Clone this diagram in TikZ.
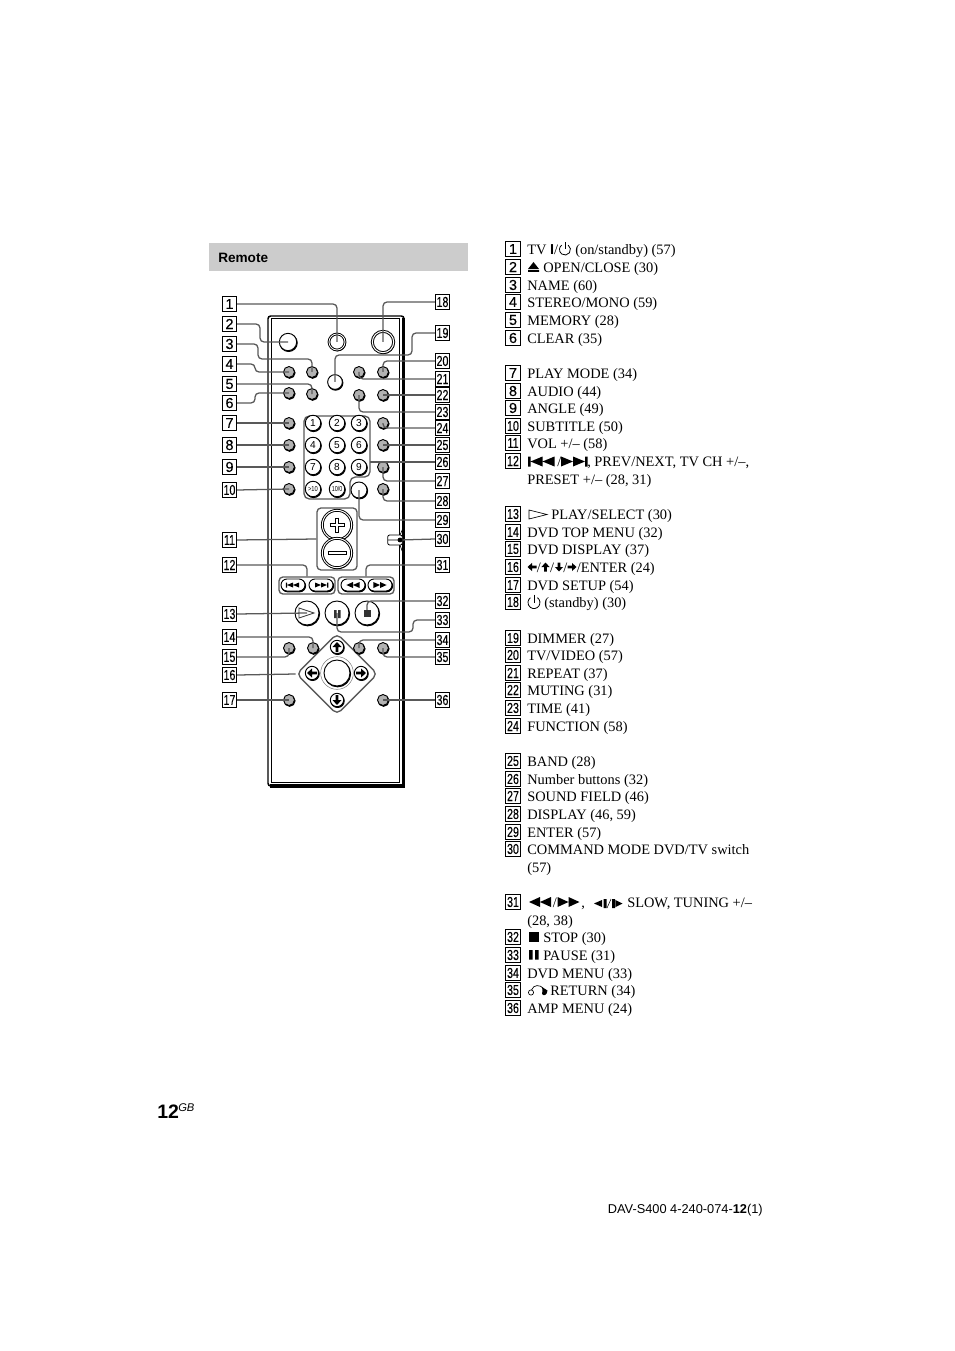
\documentclass[tikz,border=0pt]{standalone}
\usepackage{fontspec}
\setmainfont{Liberation Serif}
\setsansfont{Liberation Sans}
\newfontfamily\boxfont[FakeBold=0.2]{Liberation Sans}
\usetikzlibrary{calc,positioning,shapes.geometric,shapes.misc,shadows}
\newcommand{\nn}[1]{\scalebox{.74}[1]{#1}}

\begin{document}
\begin{tikzpicture}[
	x=0.75pt,y=-0.75pt,
	numbox/.style={rectangle, draw=black, line width=0.7pt, fill=white, inner sep=0pt, minimum width=10.8pt, minimum height=10.8pt, font=\fontsize{10.8}{11}\boxfont},
	itemtext/.style={anchor=base west, inner sep=0pt, yshift=-1.3pt, font=\fontsize{10.8}{12}\selectfont},
	lead/.style={draw=black!65, line width=0.95pt, rounded corners=3pt},
	btnshadow/.style={copy shadow={shadow xshift=0.45pt, shadow yshift=-0.65pt, draw=black, fill=black}},
	smallbtn/.style={circle, draw=black, line width=0.7pt, fill=black!30, inner sep=0pt, minimum size=8.2pt, btnshadow},
	midbtn/.style={circle, draw=black, line width=0.7pt, fill=white, inner sep=0pt, minimum size=#1, btnshadow},
	digitbtn/.style={circle, draw=black, line width=0.7pt, fill=white, inner sep=0pt, minimum size=11.6pt, btnshadow, font=\fontsize{7.6}{8}\sffamily},
	pillbtn/.style={rounded rectangle, draw=black, line width=0.7pt, fill=white, inner sep=0pt, minimum width=18pt, minimum height=9pt, btnshadow},
	groupbox/.style={rectangle, rounded corners=3pt, draw=black!65, line width=1pt, inner sep=0pt},
	twoRight/.pic={\fill (-11,-5)--(0,0)--(-11,5)--cycle (0,-5)--(11,0)--(0,5)--cycle;},
	twoLeft/.pic={\fill (11,-5)--(0,0)--(11,5)--cycle (0,-5)--(-11,0)--(0,5)--cycle;},
	skipBack/.pic={\fill (12,-5)--(0,0)--(12,5)--cycle (0,-5)--(-12,0)--(0,5)--cycle (-14.5,-5) rectangle (-12,5);},
	skipFwd/.pic={\fill (-12,-5)--(0,0)--(-12,5)--cycle (0,-5)--(12,0)--(0,5)--cycle (12,-5) rectangle (14.5,5);},
	arrowUp/.pic={\fill (0,-5)--(4.5,0)--(1.4,0)--(1.4,5)--(-1.4,5)--(-1.4,0)--(-4.5,0)--cycle;},
	powerSym/.pic={\draw[line width=0.6pt] (2.9,-4) arc (-54:234:5); \draw[line width=0.6pt] (0,-6.5) -- (0,0);}
	]
	\useasboundingbox (0,0) rectangle (954,1351);
	%Heading
	\fill[black!20] (209,243) rectangle (468,271);
	\node[anchor=base west, inner sep=0pt, font=\fontsize{10.2}{12}\sffamily\bfseries] (Heading) at (218,263) {Remote};
	%Remote body
	\draw[line width=1.1pt, rounded corners=2pt] (268,316) rectangle (404,786);
	\draw[line width=0.5pt] (271.5,318.5) rectangle (399,782);
	\draw[line width=2.4pt] (403.5,318) -- (403.5,786) -- (270,786);
	\node[rectangle, rounded corners=1.5pt, draw=black, line width=0.6pt, fill=white, inner sep=0pt, minimum width=11pt, minimum height=7.5pt] (CmdSwitch) at (395,540) {};
	\draw[line width=0.5pt] (404,526) -- (400,535) (400,545) -- (404,556) (388,540) -- (401,540);
	%Groups
	\node[groupbox, minimum width=30pt, minimum height=46.5pt] (VolGroup) at (337,539) {};
	\node[groupbox, minimum width=42pt, minimum height=12.8pt] (PrevGroup) at (307,585.5) {};
	\node[groupbox, minimum width=42pt, minimum height=12.8pt] (ScanGroup) at (366,585.5) {};
	\node[diamond, aspect=1, rounded corners=4pt, draw=black!65, line width=1pt, inner sep=0pt, minimum size=61pt] (Cross) at (337,674) {};
	\draw[black!65, line width=1pt, rounded corners=4pt] (304,416) -- (370,416) -- (370,477) -- (350,477) -- (350,499) -- (304,499) -- cycle;
	\coordinate (PadEdge) at (370,462);
	%Buttons
	\node[midbtn=13pt] (Eject) at (288,342) {};
	\node[midbtn=12pt, double, double distance=0.6pt] (TvPower) at (337,342) {};
	\node[midbtn=16pt, double, double distance=0.8pt] (Standby) at (383,342) {};
	\node[smallbtn] (NameBtn) at (312,372) {};
	\node[smallbtn] (Stereo) at (289,372) {};
	\node[smallbtn] (Memory) at (312,394) {};
	\node[smallbtn] (Clear) at (289,393) {};
	\node[smallbtn] (PlayMode) at (289,423) {};
	\node[smallbtn] (Audio) at (289,445) {};
	\node[smallbtn] (Angle) at (289,467) {};
	\node[smallbtn] (Subtitle) at (289,489) {};
	\node[midbtn=11pt] (Dimmer) at (335,382) {};
	\node[smallbtn] (TvVideo) at (383,372) {};
	\node[smallbtn] (Repeat) at (359,372) {};
	\node[smallbtn] (Muting) at (383,395) {};
	\node[smallbtn] (Time) at (359,395) {};
	\node[smallbtn] (Function) at (383,423) {};
	\node[smallbtn] (Band) at (383,445) {};
	\node[smallbtn] (Sound) at (383,467) {};
	\node[smallbtn] (Display) at (383,489) {};
	\node[midbtn=12pt] (EnterKey) at (359,490) {};
	\node[digitbtn] (Digit1) at (313,423) {1};
	\node[digitbtn] (Digit2) at (337,423) {2};
	\node[digitbtn] (Digit3) at (359,423) {3};
	\node[digitbtn] (Digit4) at (313,445) {4};
	\node[digitbtn] (Digit5) at (337,445) {5};
	\node[digitbtn] (Digit6) at (359,445) {6};
	\node[digitbtn] (Digit7) at (313,467) {7};
	\node[digitbtn] (Digit8) at (337,467) {8};
	\node[digitbtn] (Digit9) at (359,467) {9};
	\node[digitbtn, font=\fontsize{5.4}{6}\sffamily] (DigitTen) at (313,489) {\scalebox{.8}[1]{>10}};
	\node[digitbtn, font=\fontsize{5.4}{6}\sffamily] (DigitZero) at (337,489) {\scalebox{.75}[1]{10/0}};
	\node[midbtn=22pt, double, double distance=0.7pt] (VolUp) at (337,525) {};
	\node[midbtn=22pt, double, double distance=0.7pt] (VolDown) at (337,553) {};
	\node[pillbtn] (PrevBtn) at (293,585) {};
	\node[pillbtn] (NextBtn) at (321,585) {};
	\node[pillbtn] (RewBtn) at (353,585) {};
	\node[pillbtn] (FwdBtn) at (380,585) {};
	\node[midbtn=18pt] (Play) at (307,613) {};
	\node[midbtn=18pt] (Pause) at (337,613) {};
	\node[midbtn=18pt] (Stop) at (367,613) {};
	\node[smallbtn] (TopMenu) at (313,648) {};
	\node[smallbtn] (DvdDisplay) at (289,648) {};
	\node[smallbtn] (DvdMenu) at (359,648) {};
	\node[smallbtn] (Return) at (383,648) {};
	\node[smallbtn] (Setup) at (289,700) {};
	\node[smallbtn] (AmpMenu) at (383,700) {};
	\node[midbtn=10pt] (CrossUp) at (337,647) {};
	\node[midbtn=10pt] (CrossLeft) at (312,673) {};
	\node[midbtn=10pt] (CrossRight) at (361,673) {};
	\node[midbtn=10pt] (CrossDown) at (337,700) {};
	\node[circle, draw=black!50, line width=0.4pt, inner sep=0pt, minimum size=24.5pt] (EnterRing) at (337,673) {};
	\node[midbtn=19.5pt] (CrossEnter) at (337,673) {};
	\node[circle, fill=black, inner sep=0pt, minimum size=3.6pt] (Knob) at (400,540) {};
	%Callout numbers
	\node[numbox] (Lab1) at (229.5,304) {1};
	\node[numbox] (Lab2) at (229.5,324) {2};
	\node[numbox] (Lab3) at (229.5,344) {3};
	\node[numbox] (Lab4) at (229.5,364) {4};
	\node[numbox] (Lab5) at (229.5,384) {5};
	\node[numbox] (Lab6) at (229.5,403) {6};
	\node[numbox] (Lab7) at (229.5,423) {7};
	\node[numbox] (Lab8) at (229.5,445) {8};
	\node[numbox] (Lab9) at (229.5,467) {9};
	\node[numbox] (Lab10) at (229.5,490) {\nn{10}};
	\node[numbox] (Lab11) at (229.5,540) {\nn{11}};
	\node[numbox] (Lab12) at (229.5,565) {\nn{12}};
	\node[numbox] (Lab13) at (229.5,614) {\nn{13}};
	\node[numbox] (Lab14) at (229.5,637) {\nn{14}};
	\node[numbox] (Lab15) at (229.5,657) {\nn{15}};
	\node[numbox] (Lab16) at (229.5,675) {\nn{16}};
	\node[numbox] (Lab17) at (229.5,700) {\nn{17}};
	\node[numbox] (Lab18) at (442.5,302) {\nn{18}};
	\node[numbox] (Lab19) at (442.5,333) {\nn{19}};
	\node[numbox] (Lab20) at (442.5,361) {\nn{20}};
	\node[numbox] (Lab21) at (442.5,379) {\nn{21}};
	\node[numbox] (Lab22) at (442.5,395) {\nn{22}};
	\node[numbox] (Lab23) at (442.5,412) {\nn{23}};
	\node[numbox] (Lab24) at (442.5,428) {\nn{24}};
	\node[numbox] (Lab25) at (442.5,445) {\nn{25}};
	\node[numbox] (Lab26) at (442.5,462) {\nn{26}};
	\node[numbox] (Lab27) at (442.5,481) {\nn{27}};
	\node[numbox] (Lab28) at (442.5,501) {\nn{28}};
	\node[numbox] (Lab29) at (442.5,520) {\nn{29}};
	\node[numbox] (Lab30) at (442.5,539) {\nn{30}};
	\node[numbox] (Lab31) at (442.5,565) {\nn{31}};
	\node[numbox] (Lab32) at (442.5,601) {\nn{32}};
	\node[numbox] (Lab33) at (442.5,620) {\nn{33}};
	\node[numbox] (Lab34) at (442.5,640) {\nn{34}};
	\node[numbox] (Lab35) at (442.5,657) {\nn{35}};
	\node[numbox] (Lab36) at (442.5,700) {\nn{36}};
	%Lines
	\draw[lead] (Lab1.east) -| (TvPower.center);
	\draw[lead] (Lab2.east) -| (260,342) -- (Eject.center);
	\draw[lead] (Lab3.east) -| (258,359) -| (NameBtn.center);
	\draw[lead] (Lab4.east) -| (255,372) -- (Stereo.center);
	\draw[lead] (Lab5.east) -| (Memory.center);
	\draw[lead] (Lab6.east) -| (255,393) -- (Clear.center);
	\draw[lead] (Lab7.east) -- (PlayMode.center);
	\draw[lead] (Lab8.east) -- (Audio.center);
	\draw[lead] (Lab9.east) -- (Angle.center);
	\draw[lead] (Lab10.east) -- (Subtitle.center);
	\draw[lead] (Lab11.east) -- (VolGroup.west);
	\draw[lead] (Lab12.east) -| (PrevGroup.north);
	\draw[lead] (Lab13.east) -- (Play.center);
	\draw[lead] (Lab14.east) -| (TopMenu.center);
	\draw[lead] (Lab15.east) -| (DvdDisplay.center);
	\draw[lead] (Lab16.east) -- (Cross.west);
	\draw[lead] (Lab17.east) -- (Setup.center);
	\draw[lead] (Lab18.west) -| (Standby.center);
	\draw[lead] (Lab19.west) -| (412,355) -| (Dimmer.center);
	\draw[lead] (Lab20.west) -| (TvVideo.center);
	\draw[lead] (Lab21.west) -| (Repeat.center);
	\draw[lead] (Lab22.west) -- (Muting.center);
	\draw[lead] (Lab23.west) -| (Time.center);
	\draw[lead] (Lab24.west) -| (Function.center);
	\draw[lead] (Lab25.west) -- (Band.center);
	\draw[lead] (Lab26.west) -- (PadEdge);
	\draw[lead] (Lab27.west) -| (Sound.center);
	\draw[lead] (Lab28.west) -| (Display.center);
	\draw[lead] (Lab29.west) -| (EnterKey.center);
	\draw[lead] (Lab30.west) -- (Knob);
	\draw[lead] (Lab31.west) -| (ScanGroup.north);
	\draw[lead] (Lab32.west) -| (Stop.center);
	\draw[lead] (Lab33.west) -| (413,632) -| (Pause.center);
	\draw[lead] (Lab34.west) -| (DvdMenu.center);
	\draw[lead] (Lab35.west) -| (Return.center);
	\draw[lead] (Lab36.west) -- (AmpMenu.center);
	%Button marks
	\draw[line width=3.4pt] (337,517.5) -- (337,532.5) (329.5,525) -- (344.5,525);
	\draw[white, line width=1.9pt] (337,518.5) -- (337,531.5) (330.5,525) -- (343.5,525);
	\draw[line width=3.2pt] (327.5,553) -- (346.5,553);
	\draw[white, line width=1.6pt] (328.5,553) -- (345.5,553);
	\pic[scale=.5] at (293,585) {skipBack};
	\pic[scale=.5] at (321,585) {skipFwd};
	\pic[scale=.6] at (353,585) {twoLeft};
	\pic[scale=.6] at (380,585) {twoRight};
	\draw[black!75, line width=0.7pt] (299,608) -- (314,613) -- (299,618) -- cycle;
	\fill[black!80] (364,610) rectangle (371,617);
	\fill[black!80] (334,610) rectangle (336.5,618) (338,610) rectangle (340.5,618);
	\pic at (337,647) {arrowUp};
	\pic[rotate=180] at (337,700) {arrowUp};
	\pic[rotate=90] at (312,673) {arrowUp};
	\pic[rotate=-90] at (361,673) {arrowUp};
	%List numbers
	\node[numbox] (Key1) at (513,249) {1};
	\node[numbox] (Key2) at (513,267) {2};
	\node[numbox] (Key3) at (513,285) {3};
	\node[numbox] (Key4) at (513,302) {4};
	\node[numbox] (Key5) at (513,320) {5};
	\node[numbox] (Key6) at (513,338) {6};
	\node[numbox] (Key7) at (513,373) {7};
	\node[numbox] (Key8) at (513,391) {8};
	\node[numbox] (Key9) at (513,408) {9};
	\node[numbox] (Key10) at (513,426) {\nn{10}};
	\node[numbox] (Key11) at (513,443) {\nn{11}};
	\node[numbox] (Key12) at (513,461) {\nn{12}};
	\node[numbox] (Key13) at (513,514) {\nn{13}};
	\node[numbox] (Key14) at (513,532) {\nn{14}};
	\node[numbox] (Key15) at (513,549) {\nn{15}};
	\node[numbox] (Key16) at (513,567) {\nn{16}};
	\node[numbox] (Key17) at (513,585) {\nn{17}};
	\node[numbox] (Key18) at (513,602) {\nn{18}};
	\node[numbox] (Key19) at (513,638) {\nn{19}};
	\node[numbox] (Key20) at (513,655) {\nn{20}};
	\node[numbox] (Key21) at (513,673) {\nn{21}};
	\node[numbox] (Key22) at (513,690) {\nn{22}};
	\node[numbox] (Key23) at (513,708) {\nn{23}};
	\node[numbox] (Key24) at (513,726) {\nn{24}};
	\node[numbox] (Key25) at (513,761) {\nn{25}};
	\node[numbox] (Key26) at (513,779) {\nn{26}};
	\node[numbox] (Key27) at (513,796) {\nn{27}};
	\node[numbox] (Key28) at (513,814) {\nn{28}};
	\node[numbox] (Key29) at (513,832) {\nn{29}};
	\node[numbox] (Key30) at (513,849) {\nn{30}};
	\node[numbox] (Key31) at (513,902) {\nn{31}};
	\node[numbox] (Key32) at (513,937) {\nn{32}};
	\node[numbox] (Key33) at (513,955) {\nn{33}};
	\node[numbox] (Key34) at (513,973) {\nn{34}};
	\node[numbox] (Key35) at (513,990) {\nn{35}};
	\node[numbox] (Key36) at (513,1008) {\nn{36}};
	%List text
	\node[itemtext] (Txt1) at (527,253) {TV {\sffamily\bfseries I}/};
	\pic[scale=1.1] at (565,249.5) {powerSym};
	\node[itemtext] (Txt1b) at (575,253) {(on/standby) (57)};
	\fill (528,269) -- (533.5,262) -- (539,269) -- cycle (528,270) rectangle (539,272);
	\node[itemtext] (Txt2) at (543,271) {OPEN/CLOSE (30)};
	\node[itemtext] (Txt3) at (527,289) {NAME (60)};
	\node[itemtext] (Txt4) at (527,306) {STEREO/MONO (59)};
	\node[itemtext] (Txt5) at (527,324) {MEMORY (28)};
	\node[itemtext] (Txt6) at (527,342) {CLEAR (35)};
	\node[itemtext] (Txt7) at (527,377) {PLAY MODE (34)};
	\node[itemtext] (Txt8) at (527,395) {AUDIO (44)};
	\node[itemtext] (Txt9) at (527,412) {ANGLE (49)};
	\node[itemtext] (Txt10) at (527,430) {SUBTITLE (50)};
	\node[itemtext] (Txt11) at (527,447) {VOL +/– (58)};
	\pic at (542.5,461.5) {skipBack};
	\node[itemtext] (Txt12a) at (557,465) {/};
	\pic at (573,461.5) {skipFwd};
	\node[itemtext] (Txt12) at (587,465) {, PREV/NEXT, TV CH +/–,};
	\node[itemtext] (Txt12b) at (527,483) {PRESET +/– (28, 31)};
	\draw[line width=0.5pt] (529,510) -- (547,514.5) -- (529,519) -- cycle;
	\node[itemtext] (Txt13) at (551,518) {PLAY/SELECT (30)};
	\node[itemtext] (Txt14) at (527,536) {DVD TOP MENU (32)};
	\node[itemtext] (Txt15) at (527,553) {DVD DISPLAY (37)};
	\pic[rotate=90, scale=.9] at (532,567) {arrowUp};
	\pic[scale=.9] at (545.5,567) {arrowUp};
	\pic[rotate=180, scale=.9] at (559,567) {arrowUp};
	\pic[rotate=-90, scale=.9] at (572,567) {arrowUp};
	\node[itemtext] (Txt16) at (536.5,571) {/\hspace{7pt}/\hspace{7pt}/\hspace{7pt}/ENTER (24)};
	\node[itemtext] (Txt17) at (527,589) {DVD SETUP (54)};
	\pic[scale=1.2] at (534,602.5) {powerSym};
	\node[itemtext] (Txt18) at (544,606) {(standby) (30)};
	\node[itemtext] (Txt19) at (527,642) {DIMMER (27)};
	\node[itemtext] (Txt20) at (527,659) {TV/VIDEO (57)};
	\node[itemtext] (Txt21) at (527,677) {REPEAT (37)};
	\node[itemtext] (Txt22) at (527,694) {MUTING (31)};
	\node[itemtext] (Txt23) at (527,712) {TIME (41)};
	\node[itemtext] (Txt24) at (527,730) {FUNCTION (58)};
	\node[itemtext] (Txt25) at (527,765) {BAND (28)};
	\node[itemtext] (Txt26) at (527,783) {Number buttons (32)};
	\node[itemtext] (Txt27) at (527,800) {SOUND FIELD (46)};
	\node[itemtext] (Txt28) at (527,818) {DISPLAY (46, 59)};
	\node[itemtext] (Txt29) at (527,836) {ENTER (57)};
	\node[itemtext] (Txt30) at (527,853) {COMMAND MODE DVD/TV switch};
	\node[itemtext] (Txt30b) at (527,871) {(57)};
	\pic at (540,902) {twoLeft};
	\node[itemtext] (Txt31a) at (552.5,906) {/};
	\pic at (568.5,902) {twoRight};
	\node[itemtext] (Txt31) at (581,906) {,};
	\fill (602,900) -- (594,903.5) -- (602,907) -- cycle (603.5,899) rectangle (606.5,908) (612,899) rectangle (615,908) (615.5,900) -- (622.5,903.5) -- (615.5,907) -- cycle;
	\draw[line width=0.4pt] (607,908) -- (611,899);
	\node[itemtext] (Txt31b) at (627,906) {SLOW, TUNING +/–};
	\node[itemtext] (Txt31c) at (527,924) {(28, 38)};
	\fill (529,932) rectangle (538.5,942);
	\node[itemtext] (Txt32) at (543,941) {STOP (30)};
	\fill (529,950) rectangle (532.5,959.5) (535,950) rectangle (538.5,959.5);
	\node[itemtext] (Txt33) at (543,959) {PAUSE (31)};
	\node[itemtext] (Txt34) at (527,977) {DVD MENU (33)};
	\draw[line width=0.5pt] (531,992.5) circle (2.6) (531.5,990) .. controls (533.5,984.5) and (540,984) .. (544,989);
	\fill (547.5,990.5) -- (542,987) -- (542.5,990.5) -- (542,994) .. controls (544,996.5) and (547,995) .. cycle;
	\node[itemtext] (Txt35) at (550,994) {RETURN (34)};
	\node[itemtext] (Txt36) at (527,1012) {AMP MENU (24)};
	%Page marks
	\node[anchor=base west, inner sep=0pt, font=\fontsize{14.6}{16}\sffamily\bfseries] (PageNum) at (157,1118) {12};
	\node[anchor=base west, inner sep=0pt, font=\fontsize{8.4}{9}\sffamily\itshape] (PageGb) at (178,1111) {GB};
	\node[anchor=base east, inner sep=0pt, font=\fontsize{9.6}{10}\sffamily] (Footer) at (763,1213) {DAV-S400 4-240-074-\textbf{12}(1)};
\end{tikzpicture}
\end{document}
